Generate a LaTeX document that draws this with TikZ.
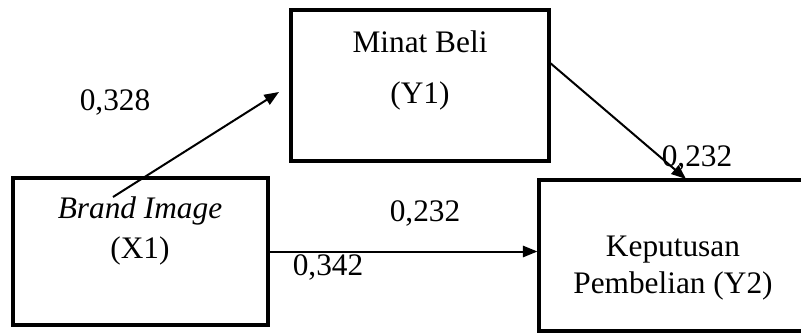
\documentclass[tikz,border=0pt]{standalone}
\usepackage{fontspec}
\setmainfont{Liberation Serif}
\usetikzlibrary{arrows.meta}
\begin{document}
\begin{tikzpicture}[x=0.75pt,y=-0.75pt,
  box/.style={draw, line width=2.3pt, rectangle, inner sep=0pt},
  lbl/.style={anchor=base, inner sep=0pt, font=\fontsize{23.5}{28}\selectfont},
  conn/.style={line width=1.5pt, -{Triangle[length=11pt,width=8.5pt]}}]
\clip (0,0) rectangle (801,333);
% variable boxes
\node[box, minimum width=191.25pt, minimum height=110.25pt] (x1) at (140.5,251.5) {};
\node[box, minimum width=193.5pt, minimum height=113.25pt] (y1) at (420,85.5) {};
\node[box, minimum width=218.25pt, minimum height=113.25pt] (y2) at (684.5,255.5) {};
% box captions
\node[lbl] (x1a) at (140,218) {\itshape Brand Image};
\node[lbl] (x1b) at (140,258) {(X1)};
\node[lbl] (y1a) at (420,52) {Minat Beli};
\node[lbl] (y1b) at (420,103) {(Y1)};
\node[lbl] (y2a) at (673,256) {Keputusan};
\node[lbl] (y2b) at (673,293) {Pembelian (Y2)};
% path coefficients
\node[lbl] (c1) at (115,110) {0,328};
\node[lbl] (c2) at (697,166) {0,232};
\node[lbl] (c3) at (425,221) {0,232};
\node[lbl] (c4) at (328,275) {0,342};
% paths
\coordinate (p1) at (113,197);
\coordinate (p2) at (279,92);
\coordinate (q1) at (549,62);
\coordinate (q2) at (686,179);
\draw[conn] (p1) -- (p2);
\draw[conn] (q1) -- (q2);
\draw[conn] (x1.east) -- (x1.east -| y2.west);
\end{tikzpicture}
\end{document}
